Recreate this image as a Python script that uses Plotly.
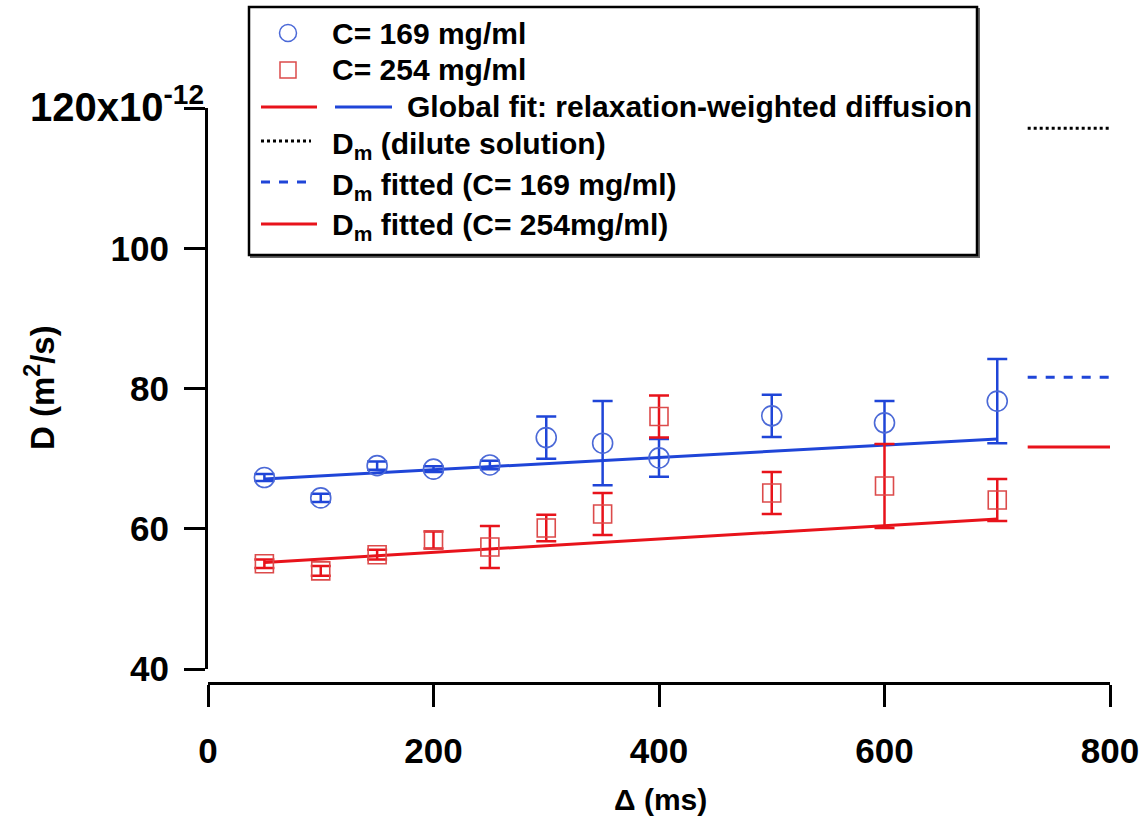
import plotly.graph_objects as go

# ---------------- data ----------------
delta_ms = [50, 100, 150, 200, 250, 300, 350, 400, 500, 600, 700]
d_169 = [67.3, 64.4, 69.0, 68.5, 69.1, 73.0, 72.2, 70.1, 76.1, 75.1, 78.2]
err_169 = [0.5, 0.6, 0.6, 0.4, 0.6, 3.0, 6.0, 2.7, 3.0, 3.1, 6.0]
d_254 = [55.0, 54.0, 56.3, 58.4, 57.4, 60.1, 62.1, 76.0, 65.1, 66.1, 64.1]
err_254 = [0.6, 0.7, 0.7, 1.2, 3.0, 1.9, 3.0, 3.0, 3.0, 6.0, 3.0]

fit_x = [50, 700]
fit_169 = [67.1, 72.8]
fit_254 = [55.2, 61.4]

dm_x = [727, 800]
dm_dilute = [117.1, 117.1]
dm_fit_169 = [81.6, 81.6]
dm_fit_254 = [71.65, 71.65]

y_tickvals = [40, 60, 80, 100, 120]
y_ticktext = ["40", "60", "80", "100", ""]
x_tickvals = [0, 200, 400, 600, 800]

BLUE = "#1f45d8"
BLUE_M = "rgb(75,105,215)"
RED = "#e8131b"
RED_M = "rgb(220,75,75)"
FONT = "Liberation Sans, Arial, sans-serif"

# plot-area pixel geometry
L, R, T, B = 208, 1110, 108, 683
W, H = R - L, B - T


def px(x):
    return (x - L) / W


def py(y):
    return (B - y) / H


fig = go.Figure()

fig.add_trace(go.Scatter(x=fit_x, y=fit_169, mode="lines",
                         line=dict(color=BLUE, width=3), showlegend=False))
fig.add_trace(go.Scatter(x=fit_x, y=fit_254, mode="lines",
                         line=dict(color=RED, width=3), showlegend=False))

fig.add_trace(go.Scatter(
    x=delta_ms, y=d_169, mode="markers",
    marker=dict(symbol="circle-open", size=20, color=BLUE_M, line=dict(width=1.6)),
    error_y=dict(type="data", array=err_169, color=BLUE, thickness=2.5, width=10),
    showlegend=False))
fig.add_trace(go.Scatter(
    x=delta_ms, y=d_254, mode="markers",
    marker=dict(symbol="square-open", size=18, color=RED_M, line=dict(width=1.6)),
    error_y=dict(type="data", array=err_254, color=RED, thickness=2.5, width=10),
    showlegend=False))

fig.add_trace(go.Scatter(x=dm_x, y=dm_dilute, mode="lines",
                         line=dict(color="black", width=3, dash="dot"), showlegend=False))
fig.add_trace(go.Scatter(x=dm_x, y=dm_fit_169, mode="lines",
                         line=dict(color=BLUE, width=3, dash="dash"), showlegend=False))
fig.add_trace(go.Scatter(x=dm_x, y=dm_fit_254, mode="lines",
                         line=dict(color=RED, width=3), showlegend=False))

shapes = []
annotations = []

# legend box (with slight shadow)
shapes.append(dict(type="rect", xref="paper", yref="paper",
                   x0=px(251), x1=px(979), y0=py(9), y1=py(257),
                   line=dict(color="rgba(0,0,0,0.6)", width=2), fillcolor="rgba(0,0,0,0)"))
shapes.append(dict(type="rect", xref="paper", yref="paper",
                   x0=px(249), x1=px(977), y0=py(7), y1=py(255),
                   line=dict(color="black", width=2.5), fillcolor="white"))

# legend samples
shapes.append(dict(type="circle", xref="paper", yref="paper",
                   x0=px(279.5), x1=px(296.5), y0=py(24.5), y1=py(41.5),
                   line=dict(color=BLUE_M, width=1.5)))
shapes.append(dict(type="rect", xref="paper", yref="paper",
                   x0=px(280), x1=px(296), y0=py(62), y1=py(78),
                   line=dict(color=RED_M, width=1.5)))
legend_lines = [
    (261, 317, 107, RED, "solid"),
    (335, 392, 107, BLUE, "solid"),
    (261, 311, 141, "black", "dot"),
    (261, 311, 182, BLUE, "dash"),
    (261, 317, 224, RED, "solid"),
]
for x0, x1, yy, c, d in legend_lines:
    shapes.append(dict(type="line", xref="paper", yref="paper",
                       x0=px(x0), x1=px(x1), y0=py(yy), y1=py(yy),
                       line=dict(color=c, width=3, dash=d)))

legend_texts = [
    (330, 33, "C= 169 mg/ml"),
    (330, 70, "C= 254 mg/ml"),
    (405, 107, "Global fit: relaxation-weighted diffusion"),
    (330, 145, "D<sub>m</sub> (dilute solution)"),
    (330, 186, "D<sub>m</sub> fitted (C= 169 mg/ml)"),
    (330, 226, "D<sub>m</sub> fitted (C= 254mg/ml)"),
]
for xx, yy, t in legend_texts:
    annotations.append(dict(text=t, xref="paper", yref="paper", x=px(xx), y=py(yy),
                            xanchor="left", yanchor="middle", showarrow=False,
                            font=dict(family=FONT, size=30, color="black", weight="bold")))

# top y tick label with exponent
annotations.append(dict(text="120x10<sup>-12</sup>", xref="paper", yref="paper",
                        x=px(206), y=py(104), xanchor="right", yanchor="middle",
                        showarrow=False,
                        font=dict(family=FONT, size=40, color="black", weight="bold")))
# axis titles
annotations.append(dict(text="D (m<sup>2</sup>/s)", xref="paper", yref="paper",
                        x=px(40), y=py(388), textangle=-90, xanchor="center",
                        yanchor="middle", showarrow=False,
                        font=dict(family=FONT, size=33, color="black", weight="bold")))
annotations.append(dict(text="Δ (ms)", xref="paper", yref="paper",
                        x=px(660), y=py(800), xanchor="center", yanchor="middle",
                        showarrow=False,
                        font=dict(family=FONT, size=30, color="black", weight="bold")))

fig.update_layout(
    width=1143, height=829,
    margin=dict(l=L, r=1143 - R, t=T, b=829 - B, pad=0, autoexpand=False),
    paper_bgcolor="white", plot_bgcolor="white",
    font=dict(family=FONT, color="black"),
    shapes=shapes, annotations=annotations,
    xaxis=dict(range=[0, 800], anchor="free", position=0, automargin=False,
               showline=True, linewidth=3, linecolor="black",
               ticks="outside", ticklen=22, tickwidth=2.5, tickcolor="black",
               tickvals=x_tickvals, showgrid=False, zeroline=False,
               ticklabelstandoff=14,
               tickfont=dict(family=FONT, size=35, color="black", weight="bold")),
    yaxis=dict(range=[40, 120], domain=[(B - 669) / H, 1], automargin=False,
               showline=True, linewidth=3, linecolor="black",
               ticks="outside", ticklen=21, tickwidth=2.5, tickcolor="black",
               tickvals=y_tickvals, ticktext=y_ticktext, showgrid=False,
               zeroline=False, ticklabelstandoff=8,
               tickfont=dict(family=FONT, size=35, color="black", weight="bold")),
)

fig.write_html("out.html")
